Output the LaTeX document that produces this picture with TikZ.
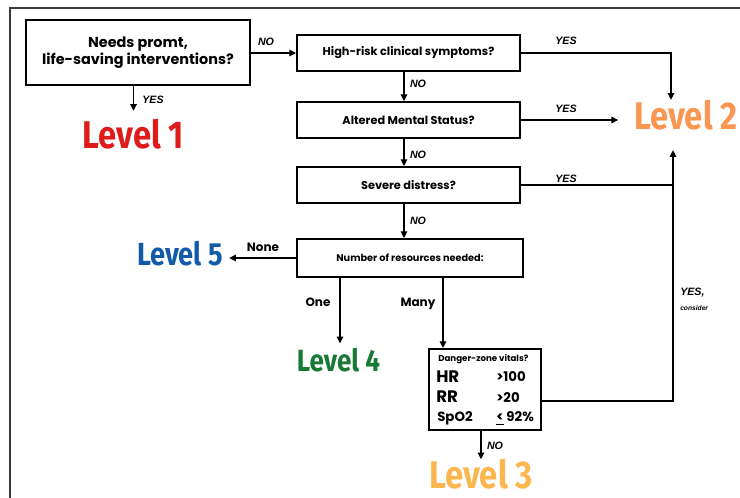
\documentclass[tikz,border=0pt]{standalone}
\usepackage{fontspec}
\setmainfont{Poppins}
\newfontfamily\levelfont[FakeStretch=0.85]{Fira Sans}
\newfontfamily\tagfont{Liberation Sans}
\usetikzlibrary{arrows.meta}
\definecolor{lvred}{RGB}{222,28,28}
\definecolor{lvorange}{RGB}{250,150,80}
\definecolor{lvyellow}{RGB}{252,182,78}
\definecolor{lvgreen}{RGB}{22,122,52}
\definecolor{lvblue}{RGB}{18,90,170}
\definecolor{framegray}{RGB}{60,60,60}

\begin{document}
\begin{tikzpicture}[x=0.75pt,y=0.75pt,yscale=-1,xscale=1,
  qbox/.style={draw, line width=1.5pt, inner sep=0.75pt, align=center, font=\bfseries\fontsize{8.5}{10}\selectfont},
  lvl/.style={inner sep=0pt, font=\levelfont\bfseries\fontsize{29}{30}\selectfont},
  tag/.style={inner sep=0.75pt, font=\tagfont\bfseries\itshape\fontsize{8}{9}\selectfont},
  cnt/.style={inner sep=0.75pt, font=\bfseries\fontsize{9}{10}\selectfont},
  vit/.style={anchor=base west, inner sep=0pt, font=\bfseries\fontsize{10}{10}\selectfont},
  arr/.style={line width=0.8pt, -{Triangle[length=5pt,width=5pt]}},
  ln/.style={line width=0.8pt}]
\useasboundingbox (0,0) rectangle (740,498);

%Shape: Frame
\draw [framegray, line width=2pt] (10,498) -- (10,8) -- (740,8) ;

%Shape: Rectangle [life]
\node [qbox, minimum width=168pt, minimum height=48.75pt, font=\bfseries\fontsize{10.8}{12.4}\selectfont] (life) at (138,52.5) {Needs promt,\\life-saving interventions?};
%Shape: Rectangle [risk]
\node [qbox, minimum width=167.25pt, minimum height=27pt] (risk) at (408.5,53) {High-risk clinical symptoms?};
%Shape: Rectangle [mental]
\node [qbox, minimum width=167.25pt, minimum height=27pt] (mental) at (408.5,120) {Altered Mental Status?};
%Shape: Rectangle [distress]
\node [qbox, minimum width=167.25pt, minimum height=27pt] (distress) at (408.5,185) {Severe distress?};
%Shape: Rectangle [resources]
\node [qbox, minimum width=169.5pt, minimum height=28.5pt, font=\bfseries\fontsize{7.3}{8}\selectfont] (resources) at (410,258) {Number of resources needed:};
%Shape: Rectangle [vitals]
\node [qbox, minimum width=84pt, minimum height=60.75pt, line width=1.6pt] (vitals) at (485,389.5) {};

% Text Node
\node [vit, font=\bfseries\fontsize{6.5}{7}\selectfont] (danger) at (438,362) {Danger-zone vitals?};
% Text Node
\node [vit, font=\bfseries\fontsize{12.5}{13}\selectfont] (hr) at (436,383) {HR};
% Text Node
\node [vit] (hrval) at (496,382) {>100};
% Text Node
\node [vit, font=\bfseries\fontsize{12.5}{13}\selectfont] (rr) at (436,403) {RR};
% Text Node
\node [vit] (rrval) at (496,403) {>20};
% Text Node
\node [vit] (spo) at (437,422) {SpO2};
% Text Node
\node [vit] (spoval) at (496,422) {\underline{<} 92\%};

% Levels
\node [lvl, text=lvred] (lv1) at (133.5,134) {Level 1};
\node [lvl, text=lvorange] (lv2) at (686,115) {Level 2};
\node [lvl, text=lvyellow] (lv3) at (481,474.5) {Level 3};
\node [lvl, text=lvgreen, font=\levelfont\bfseries\fontsize{23}{24}\selectfont] (lv4) at (338.5,360) {Level 4};
\node [lvl, text=lvblue, font=\levelfont\bfseries\fontsize{24}{25}\selectfont] (lv5) at (180,254) {Level 5};

%Straight Lines
\draw [arr] (life.east |- risk) -- (risk.west) ;
\draw [arr, shorten >=6pt] (life.south -| lv1) -- (lv1.north) ;
\draw [arr] (risk.south -| 404,0) -- (mental.north -| 404,0) ;
\draw [arr] (mental.south -| 404,0) -- (distress.north -| 404,0) ;
\draw [arr] (distress.south -| 404,0) -- (resources.north -| 404,0) ;
\draw [arr] (risk.east) -| (lv2.north -| 671,0) ;
\draw [arr, shorten >=12pt] (mental.east) -- (mental.east -| lv2.west) ;
\draw [ln] (distress.east) -- (distress.east -| 673,0) ;
\draw [arr, shorten >=15pt] (vitals.east |- 0,401) -| (lv2.south -| 673,0) ;
\draw [arr, shorten >=4.5pt] (resources.west) -- (resources.west -| lv5.east) ;
\draw [arr, shorten >=3.4pt] (resources.south -| 340,0) -- (lv4.north -| 340,0) ;
\draw [arr] (resources.south -| 443,0) -- (vitals.north -| 443,0) ;
\draw [arr] (vitals.south -| lv3) -- (lv3.north) ;

% Text Node
\node [tag] (no1) at (266,42) {NO};
% Text Node
\node [tag] (yes1) at (153,100) {YES};
% Text Node
\node [tag] (no2) at (418,84) {NO};
% Text Node
\node [tag] (no3) at (418,155) {NO};
% Text Node
\node [tag] (no4) at (418,221) {NO};
% Text Node
\node [tag] (yes2) at (566,41) {YES};
% Text Node
\node [tag] (yes3) at (566,109) {YES};
% Text Node
\node [tag] (yes4) at (566,179) {YES};
% Text Node
\node [tag] (no5) at (495,446) {NO};
% Text Node
\node [tag, anchor=west] (yes5) at (679,293) {YES,};
% Text Node
\node [tag, anchor=west, font=\tagfont\bfseries\itshape\fontsize{5}{6}\selectfont] (consider) at (679,308) {consider};
% Text Node
\node [cnt] (none) at (263,247) {None};
% Text Node
\node [cnt] (one) at (318,302) {One};
% Text Node
\node [cnt] (many) at (418,304) {Many};

\end{tikzpicture}
\end{document}
